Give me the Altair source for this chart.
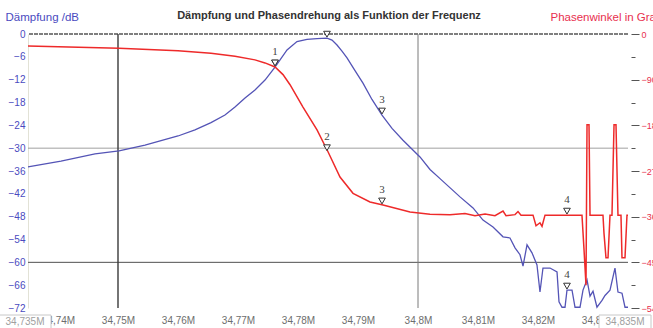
import altair as alt
import pandas as pd

FREQ_MIN, FREQ_MAX = 34.735, 34.835

# Attenuation trace: frequency in MHz, attenuation in dB
att_freq = [
    34.73500, 34.74050, 34.74617, 34.75017, 34.75450, 34.76000, 34.76283,
    34.76550, 34.76783, 34.76950, 34.77117, 34.77283, 34.77450, 34.77617,
    34.77817, 34.77983, 34.78150, 34.78317, 34.78483, 34.78567, 34.78650,
    34.78733, 34.78817, 34.78950, 34.79083, 34.79233, 34.79400, 34.79567,
    34.79750, 34.80033, 34.80200, 34.80367, 34.80700, 34.80917, 34.81083,
    34.81250, 34.81417, 34.81533, 34.81617, 34.81700, 34.81750, 34.81817,
    34.81900, 34.81983, 34.82033, 34.82083, 34.82200, 34.82317, 34.82350,
    34.82400, 34.82450, 34.82483, 34.82567, 34.82617, 34.82700, 34.82750,
    34.82817, 34.82867, 34.82917, 34.82983, 34.83067, 34.83117, 34.83200,
    34.83283, 34.83333, 34.83400, 34.83450, 34.83500,
]
att_db = [
    -34.9, -33.4, -31.5, -30.7, -29.2, -26.8, -25.2,
    -23.3, -21.3, -19.2, -16.8, -14.7, -12.1, -8.7,
    -4.2, -2.0, -1.4, -1.2, -1.1, -1.6, -2.9,
    -4.5, -6.3, -9.6, -12.9, -17.2, -21.3, -24.8,
    -27.9, -32.3, -35.6, -38.0, -42.8, -45.7, -48.9,
    -50.7, -53.3, -53.6, -56.2, -58.0, -61.0, -55.4,
    -57.5, -60.7, -67.8, -61.5, -61.5, -62.5, -70.4,
    -71.8, -71.8, -67.3, -67.3, -71.8, -71.8, -67.3,
    -64.6, -68.9, -67.6, -71.8, -70.0, -68.7, -67.3,
    -61.5, -67.8, -68.1, -71.8, -71.8,
]

# Phase trace: frequency in MHz, phase angle in degrees
ph_freq = [
    34.73500, 34.75017, 34.76000, 34.76550, 34.76950, 34.77283, 34.77450,
    34.77617, 34.77750, 34.77867, 34.78083, 34.78317, 34.78500, 34.78700,
    34.78917, 34.79200, 34.79417, 34.79867, 34.80200, 34.80533, 34.80783,
    34.80950, 34.81117, 34.81283, 34.81417, 34.81467, 34.81617, 34.81667,
    34.81717, 34.81917, 34.81967, 34.82033, 34.82067, 34.82117, 34.82733,
    34.82767, 34.82800, 34.82817, 34.82850, 34.82867, 34.83083, 34.83100,
    34.83133, 34.83167, 34.83200, 34.83233, 34.83267, 34.83300, 34.83333,
    34.83383, 34.83400, 34.83450, 34.83483, 34.83500,
]
ph_deg = [
    -23.6, -28, -33, -38, -44, -51, -57,
    -65, -80, -100, -144, -189, -232, -282,
    -314, -331, -337, -351, -355, -356, -354,
    -358, -355, -358, -349, -358, -356, -350,
    -357, -357, -378, -372, -379, -357, -357,
    -425, -495, -179, -179, -357, -357, -393,
    -441, -441, -357, -357, -179, -179, -357,
    -357, -441, -441, -357, -357,
]

# Markers 1..4 on both traces
marker_freq = [34.77617, 34.78483, 34.79400, 34.82483]
marker_att = [-8.7, -1.1, -21.3, -67.3]
marker_ph = [-65, -232, -337, -357]
att_marker_text = ["1", "", "3", "4"]
ph_marker_text = ["", "2", "3", "4"]

freq_ticks = [34.74, 34.75, 34.76, 34.77, 34.78, 34.79, 34.80, 34.81, 34.82, 34.83]
att_ticks = [0, -6, -12, -18, -24, -30, -36, -42, -48, -54, -60, -66, -72]
ph_ticks = [0, -45, -90, -135, -180, -225, -270, -315, -360, -405, -450, -495, -540]
grid_freq = [34.75, 34.80]
grid_att = [-30, -60]
edge_freq = [34.735, 34.835]
edge_text = ["34,735M", "34,835M"]

BLUE = "#5454b6"
BLUE_TEXT = "#4a4ac0"
RED = "#ee2a2a"
RED_TEXT = "#e8304e"
FONT = "Liberation Sans"

att_df = pd.DataFrame({"f": att_freq, "db": att_db})
ph_df = pd.DataFrame({"f": ph_freq, "deg": ph_deg})
att_mk = pd.DataFrame({"f": marker_freq, "db": marker_att, "label": att_marker_text})
ph_mk = pd.DataFrame({"f": marker_freq, "deg": marker_ph, "label": ph_marker_text})
edge_df = pd.DataFrame({"f": edge_freq, "label": edge_text})

x_enc = alt.X(
    "f:Q",
    scale=alt.Scale(domain=[FREQ_MIN, FREQ_MAX], nice=False, zero=False),
    axis=alt.Axis(
        values=freq_ticks,
        labelExpr="replace(format(datum.value, '.2~f'), '.', ',') + 'M'",
        labelColor="#6e6e6e",
        labelFont=FONT,
        labelFontSize=10,
        labelPadding=7,
        ticks=False,
        domain=False,
        grid=False,
        title=None,
    ),
)

y_att = alt.Y(
    "db:Q",
    scale=alt.Scale(domain=[-72, 0], nice=False, zero=False),
    axis=alt.Axis(
        values=att_ticks,
        title="Dämpfung /dB",
        titleAngle=0,
        titleX=-23,
        titleY=-17,
        titleAlign="left",
        titleBaseline="middle",
        titleColor=BLUE_TEXT,
        titleFont=FONT,
        titleFontSize=11.5,
        titleFontWeight="normal",
        labelColor=BLUE_TEXT,
        labelFont=FONT,
        labelFontSize=10,
        labelPadding=3,
        ticks=False,
        domainColor="#e2e2d6",
        grid=False,
    ),
)

y_ph = alt.Y(
    "deg:Q",
    scale=alt.Scale(domain=[-540, 0], nice=False, zero=False),
    axis=alt.Axis(
        orient="right",
        values=ph_ticks,
        labelExpr="datum.value % 90 === 0 ? format(datum.value, 'd') : ''",
        title="Phasenwinkel in Grad",
        titleAngle=0,
        titleX=-81,
        titleY=-17,
        titleAlign="left",
        titleBaseline="middle",
        titleColor=RED_TEXT,
        titleFont=FONT,
        titleFontSize=11.5,
        titleFontWeight="normal",
        labelColor=RED_TEXT,
        labelFont=FONT,
        labelFontSize=9,
        labelPadding=2,
        offset=3,
        tickColor="#555555",
        tickSize={"condition": {"test": "datum.value % 90 === 0", "value": 8}, "value": 4},
        domain=False,
        grid=False,
    ),
)

# Reference lines
vgrid_main = alt.Chart(pd.DataFrame({"f": grid_freq[:1]})).mark_rule(
    color="#3a3a3a", strokeWidth=1.4
).encode(x=x_enc)
vgrid_second = alt.Chart(pd.DataFrame({"f": grid_freq[1:]})).mark_rule(
    color="#7a7a7a", strokeWidth=1
).encode(x=x_enc)
hgrid_light = alt.Chart(pd.DataFrame({"db": grid_att[:1]})).mark_rule(
    color="#a0a0a0", strokeWidth=1
).encode(y=y_att)
hgrid_dark = alt.Chart(pd.DataFrame({"db": grid_att[1:]})).mark_rule(
    color="#505050", strokeWidth=1
).encode(y=y_att)
top_border = alt.Chart(pd.DataFrame({"db": [0]})).mark_rule(
    color="#555555", strokeWidth=1.6, strokeDash=[4, 1]
).encode(y=y_att)

# Attenuation trace with its markers
att_line = alt.Chart(att_df).mark_line(color=BLUE, strokeWidth=1.3).encode(x=x_enc, y=y_att)
att_tri = alt.Chart(att_mk).mark_point(
    shape="triangle-down", size=45, filled=True, fill="white", stroke="#333333",
    strokeWidth=1, opacity=1, yOffset=-4
).encode(x=x_enc, y=y_att)
att_lbl = alt.Chart(att_mk).mark_text(
    font="Liberation Serif", fontSize=11, color="#444444", yOffset=-15
).encode(x=x_enc, y=y_att, text="label:N")

blue_group = alt.layer(hgrid_light, hgrid_dark, top_border, vgrid_main, vgrid_second,
                       att_line, att_tri, att_lbl)

# Phase trace with its markers
ph_line = alt.Chart(ph_df).mark_line(color=RED, strokeWidth=1.5).encode(x=x_enc, y=y_ph)
ph_tri = alt.Chart(ph_mk).mark_point(
    shape="triangle-down", size=45, filled=True, fill="white", stroke="#333333",
    strokeWidth=1, opacity=1, yOffset=-4
).encode(x=x_enc, y=y_ph)
ph_lbl = alt.Chart(ph_mk).mark_text(
    font="Liberation Serif", fontSize=11, color="#444444", yOffset=-15
).encode(x=x_enc, y=y_ph, text="label:N")

red_group = alt.layer(ph_line, ph_tri, ph_lbl)

# Boxed start / stop frequency labels
edge_box = alt.Chart(edge_df).mark_rect(
    width=52, height=14, fill="white", stroke="#c8c8c8", strokeWidth=1, xOffset=-3
).encode(x=x_enc, y=alt.value(288))
edge_lbl = alt.Chart(edge_df).mark_text(
    font=FONT, fontSize=10, color="#a0a0a0", xOffset=-3
).encode(x=x_enc, y=alt.value(288), text="label:N")

chart = alt.layer(blue_group, red_group, edge_box, edge_lbl).resolve_scale(
    y="independent"
).properties(
    width=600,
    height=274,
    autosize="none",
    padding={"left": 28, "top": 34, "right": 25, "bottom": 20},
    background="white",
    title=alt.TitleParams(
        "Dämpfung und Phasendrehung als Funktion der Frequenz",
        font=FONT,
        fontSize=11,
        fontWeight="bold",
        color="#333333",
        anchor="middle",
        offset=0,
        dy=10,
        dx=1,
    ),
).configure_view(stroke=None)

chart.save("out.html", embed_options={"renderer": "svg", "actions": False})
